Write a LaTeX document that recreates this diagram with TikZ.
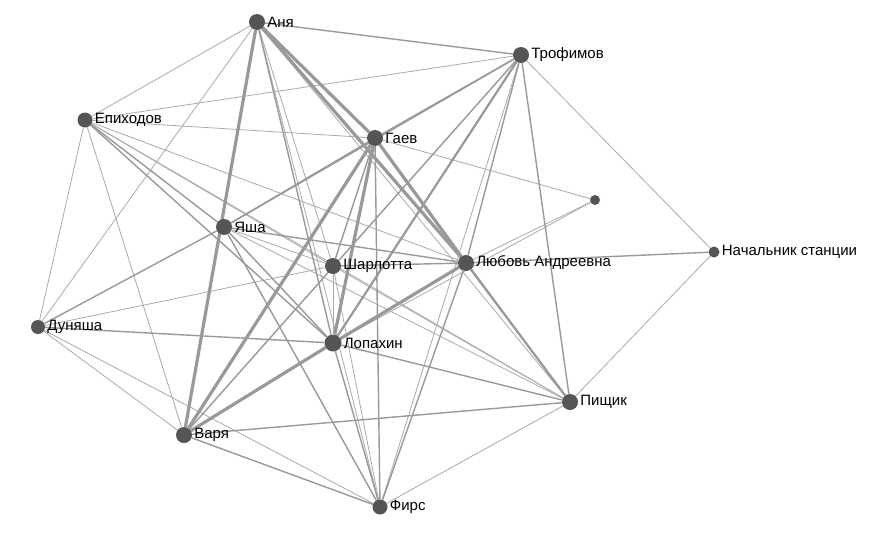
\documentclass[tikz,border=0pt]{standalone}
\usepackage{fontspec}
\setmainfont{Liberation Sans}
\usetikzlibrary{backgrounds}
\definecolor{edgecol}{HTML}{999999}
\definecolor{edgelight}{HTML}{AAAAAA}
\definecolor{ndcol}{HTML}{555555}
\begin{document}
\begin{tikzpicture}[x=1pt,y=-1pt,
  nd/.style={circle,fill=ndcol,inner sep=0pt,minimum size=#1},
  lbl/.style={anchor=west,font=\fontsize{15}{17}\selectfont,inner sep=0pt,text=black},
  ea/.style={draw=edgelight,line width=0.8pt},
  eb/.style={draw=edgecol,line width=1.4pt},
  ec/.style={draw=edgecol,line width=2.2pt},
  ed/.style={draw=edgecol,line width=3.2pt}]
\path[use as bounding box] (0,0) rectangle (888,551);
\node[nd=16pt] (A) at (257,22) {};
\node[nd=16pt] (T) at (521,55) {};
\node[nd=15pt] (E) at (85,120) {};
\node[nd=16pt] (G) at (375,138) {};
\node[nd=10pt] (U) at (595,200) {};
\node[nd=16pt] (Y) at (224,227) {};
\node[nd=16pt] (S) at (333,266) {};
\node[nd=16pt] (L) at (466,263) {};
\node[nd=11pt] (N) at (714,252) {};
\node[nd=14pt] (D) at (38,327) {};
\node[nd=17pt] (Lo) at (333,343) {};
\node[nd=16pt] (P) at (570,402) {};
\node[nd=16pt] (V) at (184,435) {};
\node[nd=15pt] (F) at (380,507) {};
\node[lbl] (lA) at ([xshift=2pt]A.east) {Аня};
\node[lbl] (lT) at ([xshift=2pt]T.east) {Трофимов};
\node[lbl] (lE) at ([xshift=2pt]E.east) {Епиходов};
\node[lbl] (lG) at ([xshift=2pt]G.east) {Гаев};
\node[lbl] (lY) at ([xshift=2pt]Y.east) {Яша};
\node[lbl] (lS) at ([xshift=2pt]S.east) {Шарлотта};
\node[lbl] (lL) at ([xshift=2pt]L.east) {Любовь Андреевна};
\node[lbl] (lN) at ([xshift=2pt]N.east) {Начальник станции};
\node[lbl] (lD) at ([xshift=2pt]D.east) {Дуняша};
\node[lbl] (lLo) at ([xshift=2pt]Lo.east) {Лопахин};
\node[lbl] (lP) at ([xshift=2pt]P.east) {Пищик};
\node[lbl] (lV) at ([xshift=2pt]V.east) {Варя};
\node[lbl] (lF) at ([xshift=2pt]F.east) {Фирс};
\begin{scope}[on background layer]
% thin
\foreach \a/\b in {A/E,A/D,A/S,A/F,A/P,E/T,E/D,E/V,E/S,E/L,E/P,E/G,T/N,T/F,G/U,G/P,U/L,U/Lo,N/P,D/S,D/V,D/F,S/Lo,S/F,Y/P,F/P,S/P,Y/S}
  \draw[ea] (\a) -- (\b);
% medium
\foreach \a/\b in {A/T,A/Lo,T/L,T/V,T/G,G/Y,Y/D,Y/L,Y/Lo,Y/F,D/Lo,L/N,Lo/P,V/P,V/F,G/F,L/F,G/S,L/S,E/Lo,E/Y,T/P,Lo/F,T/Y}
  \draw[eb] (\a) -- (\b);
% thick
\foreach \a/\b in {T/Lo,L/P}
  \draw[ec] (\a) -- (\b);
% very thick
\foreach \a/\b in {A/V,A/G,A/L,G/L,G/Lo,L/Lo,V/Lo,V/G}
  \draw[ed] (\a) -- (\b);
\end{scope}
\end{tikzpicture}
\end{document}
